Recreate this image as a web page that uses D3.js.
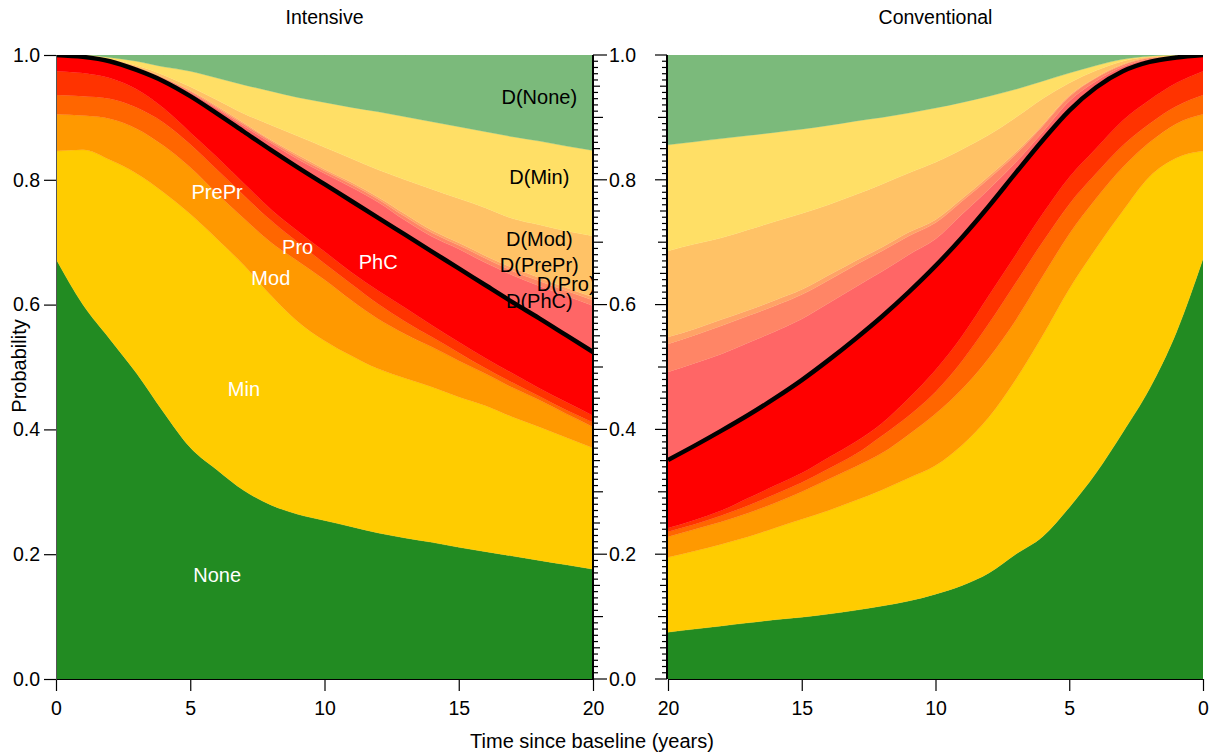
<!DOCTYPE html>
<html><head><meta charset="utf-8">
<script src="https://cdn.jsdelivr.net/npm/d3@7"></script>
<style>
body{margin:0;background:#fff;}
text{font-family:"Liberation Sans",Arial,Helvetica,sans-serif;}
</style>
</head><body>
<svg id="chart" width="1214" height="753"></svg>
<script>
// ---------- DATA ----------
const years = [0,1,2,3,4,5,6,7,8,9,10,11,12,13,14,15,16,17,18,19,20];
const states = ["None","Min","Mod","Pro","PrePr","PhC","D(PhC)","D(PrePr)","D(Pro)","D(Mod)","D(Min)","D(None)"];
const stateColors = ["#228B22","#FFCC00","#FF9900","#FF6600","#FF3300","#FF0000",
                     "#FF6666","#FF8566","#FFA366","#FFC266","#FFDF66","#7BBA7B"];

// Intensive arm: state occupancy probabilities by year
const intNone  = [0.673,0.600,0.545,0.490,0.428,0.371,0.335,0.302,0.279,0.264,0.254,0.244,0.234,0.226,0.219,0.211,0.204,0.197,0.190,0.183,0.176];
const intMin   = [0.173,0.248,0.287,0.320,0.352,0.374,0.370,0.361,0.336,0.309,0.288,0.274,0.263,0.256,0.249,0.241,0.234,0.223,0.214,0.204,0.194];
const intMod   = [0.059,0.055,0.066,0.072,0.075,0.075,0.073,0.075,0.085,0.097,0.098,0.089,0.080,0.071,0.064,0.058,0.051,0.047,0.043,0.038,0.034];
const intPro   = [0.031,0.031,0.032,0.034,0.037,0.037,0.038,0.037,0.035,0.030,0.026,0.026,0.024,0.020,0.016,0.013,0.009,0.008,0.006,0.006,0.007];
const intPrePr = [0.038,0.037,0.033,0.029,0.023,0.019,0.020,0.019,0.018,0.018,0.019,0.019,0.021,0.022,0.019,0.017,0.016,0.015,0.013,0.013,0.011];
const intPhC   = [0.026,0.026,0.027,0.031,0.043,0.058,0.070,0.083,0.095,0.102,0.108,0.114,0.117,0.117,0.118,0.118,0.117,0.114,0.112,0.107,0.102];
const intDPhC  = [0,0.001,0.002,0.003,0.004,0.006,0.008,0.009,0.011,0.013,0.017,0.022,0.025,0.023,0.024,0.031,0.036,0.043,0.052,0.063,0.074];
const intDPrePr= [0,0,0.001,0.001,0.001,0.002,0.002,0.003,0.003,0.004,0.004,0.005,0.005,0.006,0.006,0.006,0.007,0.007,0.008,0.008,0.009];
const intDPro  = [0,0,0,0.001,0.001,0.001,0.002,0.002,0.002,0.003,0.003,0.003,0.003,0.004,0.004,0.004,0.004,0.005,0.005,0.005,0.005];
const intDMod  = [0,0.001,0.001,0.002,0.004,0.006,0.010,0.015,0.024,0.030,0.035,0.038,0.044,0.055,0.066,0.071,0.077,0.079,0.085,0.091,0.098];
const intDMin  = [0,0.001,0.002,0.007,0.013,0.025,0.035,0.046,0.054,0.062,0.072,0.082,0.093,0.101,0.108,0.115,0.122,0.131,0.134,0.136,0.137];
const intDNone = [0,0,0.004,0.010,0.019,0.026,0.037,0.048,0.058,0.068,0.076,0.084,0.091,0.099,0.107,0.115,0.123,0.131,0.138,0.146,0.153];

// Conventional arm
const conNone  = [0.673,0.555,0.465,0.395,0.330,0.275,0.228,0.200,0.170,0.150,0.136,0.125,0.117,0.110,0.104,0.099,0.095,0.090,0.085,0.080,0.075];
const conMin   = [0.173,0.280,0.340,0.355,0.360,0.350,0.322,0.280,0.250,0.225,0.206,0.197,0.186,0.176,0.166,0.157,0.147,0.138,0.131,0.125,0.120];
const conMod   = [0.059,0.055,0.055,0.070,0.080,0.088,0.095,0.095,0.095,0.090,0.083,0.070,0.059,0.054,0.050,0.044,0.040,0.038,0.036,0.035,0.033];
const conPro   = [0.031,0.028,0.030,0.035,0.040,0.048,0.055,0.060,0.055,0.045,0.035,0.030,0.028,0.020,0.017,0.015,0.014,0.012,0.010,0.008,0.008];
const conPrePr = [0.038,0.037,0.038,0.040,0.040,0.043,0.045,0.045,0.045,0.040,0.035,0.028,0.020,0.020,0.018,0.015,0.014,0.012,0.008,0.007,0.006];
const conPhC   = [0.026,0.041,0.061,0.079,0.098,0.107,0.118,0.131,0.143,0.158,0.167,0.170,0.171,0.165,0.156,0.149,0.140,0.133,0.128,0.119,0.109];
const conDPhC  = [0,0.001,0.004,0.007,0.010,0.015,0.013,0.017,0.027,0.037,0.043,0.060,0.072,0.083,0.091,0.098,0.107,0.116,0.123,0.132,0.141];
const conDPrePr= [0,0.001,0.002,0.003,0.005,0.007,0.010,0.013,0.017,0.021,0.026,0.030,0.033,0.035,0.037,0.039,0.041,0.043,0.045,0.045,0.045];
const conDPro  = [0,0,0.001,0.001,0.001,0.002,0.002,0.003,0.004,0.004,0.005,0.006,0.006,0.007,0.008,0.008,0.009,0.009,0.010,0.010,0.011];
const conDMod  = [0,0.001,0.001,0.005,0.011,0.020,0.042,0.056,0.066,0.079,0.092,0.095,0.101,0.106,0.113,0.122,0.126,0.129,0.131,0.136,0.138];
const conDMin  = [0,0.001,0.001,0.003,0.008,0.016,0.028,0.045,0.062,0.075,0.087,0.096,0.107,0.118,0.127,0.135,0.143,0.151,0.159,0.164,0.170];
const conDNone = [0,0,0.002,0.007,0.017,0.029,0.042,0.055,0.066,0.076,0.085,0.093,0.100,0.106,0.113,0.119,0.124,0.129,0.134,0.139,0.144];

// In-plot labels (Intensive panel): text, year, probability
const labelText = ["None","Min","Mod","Pro","PrePr","PhC","D(None)","D(Min)","D(Mod)","D(PrePr)","D(Pro)","D(PhC)"];
const labelYear = [6.0, 7.0, 8.0, 9.0, 6.0, 12.0, 18.0, 18.0, 18.0, 18.0, 19.0, 18.0];
const labelProb = [0.167,0.465,0.643,0.692,0.780,0.668,0.933,0.804,0.705,0.664,0.633,0.605];
const labelWhite = [true,true,true,true,true,true,false,false,false,false,false,false];

const panelTitles = ["Intensive","Conventional"];
const xTicks = [0,5,10,15,20];
const yTicks = [0,0.2,0.4,0.6,0.8,1.0];
const yTickLabels = ["0.0","0.2","0.4","0.6","0.8","1.0"];
const xAxisTitle = "Time since baseline (years)";
const yAxisTitle = "Probability";

// ---------- LAYOUT ----------
const svg = d3.select("#chart");
const yTop = 55, yBot = 679;
const y = d3.scaleLinear().domain([0,1]).range([yBot,yTop]);
const panels = [
  {title:panelTitles[0], x:d3.scaleLinear().domain([0,20]).range([56,593]),
   series:[intNone,intMin,intMod,intPro,intPrePr,intPhC,intDPhC,intDPrePr,intDPro,intDMod,intDMin,intDNone]},
  {title:panelTitles[1], x:d3.scaleLinear().domain([20,0]).range([668,1203]),
   series:[conNone,conMin,conMod,conPro,conPrePr,conPhC,conDPhC,conDPrePr,conDPro,conDMod,conDMin,conDNone]}
];

const stack = d3.stack().keys(states);

panels.forEach((p,pi) => {
  let rows = years.map((t,i) => {
    const r = {t:t};
    states.forEach((s,k) => r[s] = p.series[k][i]);
    return r;
  });
  rows.sort((a,b) => p.x(a.t) - p.x(b.t));
  const layers = stack(rows);
  const [x0,x1] = p.x.range();

  const clipId = "clip"+pi;
  svg.append("clipPath").attr("id",clipId).append("rect")
    .attr("x",x0).attr("y",yTop).attr("width",x1-x0).attr("height",yBot-yTop);
  const g = svg.append("g").attr("clip-path",`url(#${clipId})`);

  const area = d3.area()
    .x(d => p.x(d.data.t))
    .y0(d => y(Math.max(0,d[0])))
    .y1(d => y(Math.min(1,d[1])))
    .curve(d3.curveMonotoneX);

  g.selectAll("path.band").data(layers).join("path")
    .attr("class","band")
    .attr("d",area)
    .attr("fill",(d,i) => stateColors[i])
    .attr("stroke",(d,i) => stateColors[i])
    .attr("stroke-width",0.3);

  // alive total line (top of PhC layer)
  const alive = layers[5];
  const line = d3.line()
    .x(d => p.x(d.data.t))
    .y(d => y(d[1]))
    .curve(d3.curveMonotoneX);
  g.append("path").datum(alive).attr("d",line)
    .attr("fill","none").attr("stroke","#000").attr("stroke-width",4.5)
    .attr("stroke-linejoin","round");

  if (pi === 0) {
    g.selectAll("text.lab").data(labelText).join("text")
      .attr("class","lab")
      .attr("x",(d,i) => p.x(labelYear[i]))
      .attr("y",(d,i) => y(labelProb[i]))
      .attr("text-anchor","middle")
      .attr("dominant-baseline","central")
      .attr("font-size",20)
      .attr("fill",(d,i) => labelWhite[i] ? "#fff" : "#000")
      .text(d => d);
  }

  // bottom axis
  const xa = svg.append("g").attr("transform",`translate(0,${yBot})`)
    .call(d3.axisBottom(p.x).tickValues(xTicks).tickSize(12).tickPadding(10).tickFormat(d3.format("d")));
  xa.select(".domain").attr("stroke","#000").attr("stroke-width",1);
  xa.selectAll(".tick line").attr("stroke","#000").attr("stroke-width",1.2);
  xa.selectAll("text").attr("font-size",19.5).attr("fill","#000");

  // title
  svg.append("text").attr("x",(x0+x1)/2).attr("y",24)
    .attr("text-anchor","middle").attr("font-size",19.5).attr("fill","#000").text(p.title);
});

// minor tick values
const minor01 = d3.range(0,101).map(i => i/100);
function tickLen(v, big, mid, half, small){
  const k = Math.round(v*100);
  if (k % 20 === 0) return big;
  if (k % 10 === 0) return mid;
  if (k % 5 === 0) return half;
  return small;
}

// Left axis of the Intensive panel
{
  const ya = svg.append("g").attr("transform","translate(56,0)")
    .call(d3.axisLeft(y).tickValues(yTicks).tickSize(12).tickPadding(4).tickFormat((d,i)=>yTickLabels[i]));
  ya.select(".domain").attr("stroke","#555").attr("stroke-width",1);
  ya.selectAll(".tick line").attr("stroke","#000").attr("stroke-width",1.2);
  ya.selectAll("text").attr("font-size",19.5).attr("fill","#000");
}
// Right axis of the Intensive panel (with labels)
{
  const gx = 593;
  const g = svg.append("g");
  g.selectAll("line.mt").data(minor01).join("line").attr("class","mt")
    .attr("x1",gx).attr("x2",d => gx + tickLen(d,14,10,7,5))
    .attr("y1",d => y(d)).attr("y2",d => y(d))
    .attr("stroke","#000").attr("stroke-width",1.2);
  g.append("line").attr("x1",gx).attr("x2",gx).attr("y1",yTop).attr("y2",yBot)
    .attr("stroke","#000").attr("stroke-width",2);
  g.selectAll("text").data(yTicks).join("text")
    .attr("x",gx+16).attr("y",d => y(d)).attr("dy","0.35em")
    .attr("font-size",19.5).attr("fill","#000")
    .text((d,i) => yTickLabels[i]);
}
// Left axis of the Conventional panel (no labels)
{
  const gx = 667;
  const g = svg.append("g");
  g.selectAll("line.mt").data(minor01).join("line").attr("class","mt")
    .attr("x1",gx).attr("x2",d => gx - tickLen(d,12,9,7,5))
    .attr("y1",d => y(d)).attr("y2",d => y(d))
    .attr("stroke","#000").attr("stroke-width",1.2);
  g.append("line").attr("x1",gx).attr("x2",gx).attr("y1",yTop).attr("y2",yBot)
    .attr("stroke","#000").attr("stroke-width",2);
}

// axis titles
svg.append("text").attr("x",592).attr("y",748).attr("text-anchor","middle")
  .attr("font-size",20).attr("fill","#000").text(xAxisTitle);
svg.append("text").attr("transform","translate(26,366) rotate(-90)").attr("text-anchor","middle")
  .attr("font-size",20).attr("fill","#000").text(yAxisTitle);
</script>
</body></html>
